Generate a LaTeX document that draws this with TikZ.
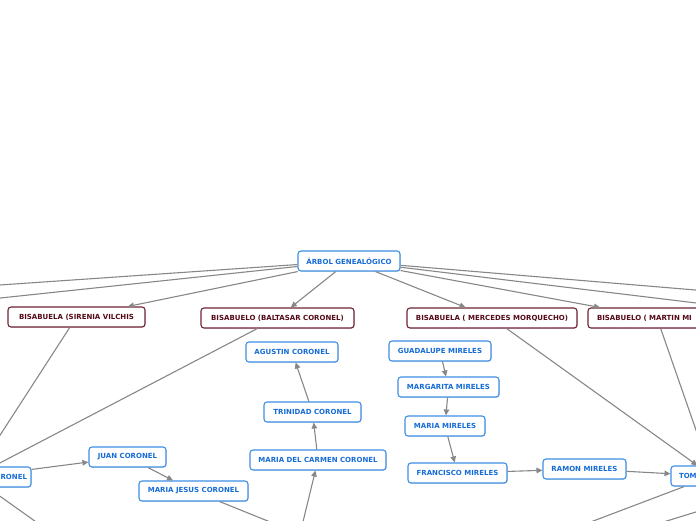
\documentclass[tikz,border=0pt]{standalone}
\usepackage{fontspec}
\setmainfont{DejaVu Sans}
\usetikzlibrary{arrows.meta,shadows}
\definecolor{bluetext}{RGB}{22,108,214}
\definecolor{blueborder}{RGB}{62,142,228}
\definecolor{martext}{RGB}{85,10,25}
\definecolor{marborder}{RGB}{110,35,50}
\definecolor{linkgray}{RGB}{135,135,135}
\tikzset{
  base/.style={rectangle, rounded corners=3pt, fill=white, line width=1.1pt,
    minimum height=20pt, inner sep=0pt,
    font=\fontsize{7}{8}\selectfont\bfseries,
    drop shadow={opacity=0.22, shadow xshift=0.8pt, shadow yshift=-0.9pt}},
  bluebox/.style={base, draw=blueborder, text=bluetext},
  marbox/.style={base, draw=marborder, text=martext},
  link/.style={draw=linkgray, line width=1.1pt},
  arr/.style={link, -{Triangle[length=6pt,width=5.5pt]}}
}
\begin{document}
\begin{tikzpicture}[x=1pt,y=-1pt]
\useasboundingbox (0,0) rectangle (696,520);
\clip (0,0) rectangle (696,520);
% coordinates for links leaving the picture
\coordinate (offL1) at (-60,289.1);
\coordinate (offL2) at (-60,304.4);
\coordinate (offR1) at (760,295.4);
\coordinate (offR2) at (760,310.7);
\coordinate (hid) at (300,534);
\coordinate (offRonel) at (60,539);
\coordinate (offTom) at (560,533.6);
\coordinate (offBR1) at (730,501.5);
\coordinate (offBR2) at (640,529.2);

% nodes
\node[bluebox, minimum width=102pt] (root) at (349,261) {ÁRBOL GENEALÓGICO};
\node[marbox, minimum width=137pt] (sirenia) at (76.5,317) {BISABUELA (SIRENIA VILCHIS};
\node[marbox, minimum width=153pt] (baltasar) at (277.5,318) {BISABUELO (BALTASAR CORONEL)};
\node[marbox, minimum width=170pt] (mercedes) at (492,318) {BISABUELA ( MERCEDES MORQUECHO)};
\node[marbox, inner xsep=9pt, text width=120pt, align=left] (martin) at (657,318) {BISABUELO ( MARTIN MI};
\node[bluebox, minimum width=92pt] (agustin) at (292,352) {AGUSTIN CORONEL};
\node[bluebox, minimum width=97pt] (trinidad) at (312.5,412) {TRINIDAD CORONEL};
\node[bluebox, minimum width=136pt] (mdc) at (318,460) {MARIA DEL CARMEN CORONEL};
\node[bluebox, minimum width=102pt] (guadalupe) at (440,351) {GUADALUPE MIRELES};
\node[bluebox, minimum width=101pt] (margarita) at (448.5,387) {MARGARITA MIRELES};
\node[bluebox, minimum width=80pt] (mariam) at (445,426) {MARIA MIRELES};
\node[bluebox, minimum width=99pt] (francisco) at (457.5,473) {FRANCISCO MIRELES};
\node[bluebox, minimum width=83pt] (ramon) at (584.5,469) {RAMON MIRELES};
\node[bluebox, inner xsep=8pt, text width=66pt, align=left] (tom) at (712,476) {TOM};
\node[bluebox, inner xsep=4pt, text width=108pt, align=right] (ronel) at (-27,477) {RONEL};
\node[bluebox, minimum width=77pt] (juan) at (127.5,457) {JUAN CORONEL};
\node[bluebox, minimum width=109pt] (mj) at (193.5,491) {MARIA JESUS CORONEL};

% links
\draw[arr] (root) -- (sirenia);
\draw[arr] (root) -- (baltasar);
\draw[arr] (root) -- (mercedes);
\draw[arr] (root) -- (martin);
\draw[link] (root) -- (offL1);
\draw[link] (root) -- (offL2);
\draw[link] (root) -- (offR1);
\draw[link] (root) -- (offR2);
\draw[arr] (sirenia) -- (ronel);
\draw[arr] (baltasar) -- (ronel);
\draw[arr] (ronel) -- (juan);
\draw[link] (ronel) -- (offRonel);
\draw[arr] (juan) -- (mj);
\draw[link] (mj) -- (hid);
\draw[arr] (hid) -- (mdc);
\draw[arr] (mdc) -- (trinidad);
\draw[arr] (trinidad) -- (agustin);
\draw[arr] (guadalupe) -- (margarita);
\draw[arr] (margarita) -- (mariam);
\draw[arr] (mariam) -- (francisco);
\draw[arr] (francisco) -- (ramon);
\draw[arr] (ramon) -- (tom);
\draw[arr] (mercedes) -- (tom);
\draw[arr] (martin) -- (tom);
\draw[link] (tom) -- (offTom);
\draw[link] (offBR1) -- (offBR2);
\end{tikzpicture}
\end{document}
